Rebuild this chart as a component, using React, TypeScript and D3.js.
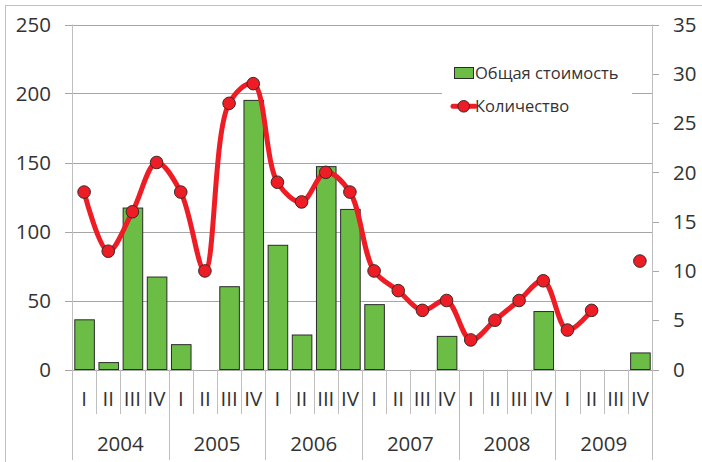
import React from "react";
import * as d3 from "d3";

const years = ["2004", "2005", "2006", "2007", "2008", "2009"];
const quarters = ["I", "II", "III", "IV"];
// Общая стоимость (left axis)
const totalCost = [36, 5, 117, 67, 18, 0, 60, 195, 90, 25, 147, 116, 47, 0, 0, 24, 0, 0, 0, 42, 0, 0, 0, 12];
// Количество (right axis); null = no value
const count: (number | null)[] = [18, 12, 16, 21, 18, 10, 27, 29, 19, 17, 20, 18, 10, 8, 6, 7, 3, 5, 7, 9, 4, 6, null, 11];
const leftTicks = [0, 50, 100, 150, 200, 250];
const rightTicks = [0, 5, 10, 15, 20, 25, 30, 35];

const W = 702;
const H = 462;
const left = 72;
const right = 652;
const top = 24.5;
const zeroY = 369.5;
const FONT = "'Open Sans', 'Noto Sans', sans-serif";
const GREEN = "#6cbd45";
const RED = "#ee1c24";
const TEXT = "#333";
const GRID = "#a6a6a6";
const AXIS = "#bfbfbf";

export default function App() {
  const cats = years.flatMap((y) => quarters.map((q) => `${y}-${q}`));
  const x = d3.scaleBand<string>().domain(cats).range([left, right]).paddingInner(0.19).paddingOuter(0.095);
  const step = x.step();
  const yL = d3.scaleLinear().domain([0, 250]).range([zeroY, top]);
  const yR = d3.scaleLinear().domain([0, 35]).range([zeroY, top]);
  const cx = (i: number) => (x(cats[i]) as number) + x.bandwidth() / 2;

  const line = d3
    .line<number | null>()
    .defined((d) => d !== null)
    .x((_, i) => cx(i))
    .y((d) => yR(d as number))
    .curve(d3.curveCatmullRom.alpha(0.5));

  const catLeft = (i: number) => left + i * step;

  return (
    <svg width={W} height={H} style={{ position: "absolute", left: 0, top: 0, background: "#fff" }}>
      {/* outer frame */}
      <rect x={5.5} y={5.5} width={W + 20} height={H + 20} fill="#fff" stroke={AXIS} />

      {/* horizontal gridlines */}
      {leftTicks.map((t) => (
        <line key={`g${t}`} x1={left - 7} x2={t === 0 ? right + 7 : right} y1={Math.round(yL(t)) + 0.5} y2={Math.round(yL(t)) + 0.5} stroke={GRID} strokeWidth={1} />
      ))}

      {/* right axis ticks */}
      {rightTicks.map((t) => (
        <line key={`rt${t}`} x1={right} x2={right + 7} y1={Math.round(yR(t)) + 0.5} y2={Math.round(yR(t)) + 0.5} stroke={GRID} />
      ))}

      {/* bars */}
      {totalCost.map((v, i) =>
        v > 0 ? (
          <rect
            key={`b${i}`}
            x={(x(cats[i]) as number) + 0.5}
            y={yL(v)}
            width={x.bandwidth()}
            height={zeroY - yL(v)}
            fill={GREEN}
            stroke="#2b2b2b"
            strokeWidth={1}
          />
        ) : null
      )}

      {/* category separators */}
      {cats.map((_, i) =>
        i === 0 ? null : (
          <line
            key={`s${i}`}
            x1={Math.round(catLeft(i)) + 0.5}
            x2={Math.round(catLeft(i)) + 0.5}
            y1={zeroY}
            y2={i % 4 === 0 ? 460 : 414}
            stroke={AXIS}
          />
        )
      )}

      {/* axis lines */}
      <line x1={left + 0.5} x2={left + 0.5} y1={top} y2={460} stroke={AXIS} />
      <line x1={right + 0.5} x2={right + 0.5} y1={top} y2={460} stroke={AXIS} />

      {/* Количество line */}
      <path d={line(count) || ""} fill="none" stroke={RED} strokeWidth={5} strokeLinejoin="round" />
      {count.map((v, i) =>
        v === null ? null : (
          <circle key={`m${i}`} cx={cx(i)} cy={yR(v)} r={6.3} fill={RED} stroke="#3a2a2a" strokeWidth={1} />
        )
      )}

      {/* left axis labels */}
      {leftTicks.map((t) => (
        <text key={`lt${t}`} x={51} y={yL(t)} dy="0.35em" textAnchor="end" fontFamily={FONT} fontSize={20.5} fill={TEXT}>
          {t}
        </text>
      ))}
      {/* right axis labels */}
      {rightTicks.map((t) => (
        <text key={`rl${t}`} x={673} y={yR(t)} dy="0.35em" textAnchor="start" fontFamily={FONT} fontSize={20.5} fill={TEXT}>
          {t}
        </text>
      ))}

      {/* quarter labels */}
      {cats.map((c, i) => (
        <text key={`q${i}`} x={cx(i)} y={398.5} dy="0.35em" textAnchor="middle" fontFamily={FONT} fontSize={20.5} fill={TEXT}>
          {quarters[i % 4]}
        </text>
      ))}
      {/* year labels */}
      {years.map((y, j) => (
        <text key={`y${y}`} x={left + (j * 4 + 2) * step} y={443.5} dy="0.35em" textAnchor="middle" fontFamily={FONT} fontSize={20.5} fill={TEXT}>
          {y}
        </text>
      ))}

      {/* legend */}
      <rect x={442} y={55} width={190} height={70} fill="#fff" />
      <rect x={454.5} y={67.5} width={19} height={11} fill={GREEN} stroke="#2b2b2b" />
      <text x={475} y={73} dy="0.35em" fontFamily={FONT} fontSize={16.5} fill={TEXT}>
        Общая стоимость
      </text>
      <line x1={453} x2={475} y1={106.3} y2={106.3} stroke={RED} strokeWidth={5} strokeLinecap="round" />
      <circle cx={463.7} cy={106.3} r={5.8} fill={RED} stroke="#3a2a2a" strokeWidth={1} />
      <text x={475} y={106.3} dy="0.35em" fontFamily={FONT} fontSize={16.5} fill={TEXT}>
        Количество
      </text>
    </svg>
  );
}
